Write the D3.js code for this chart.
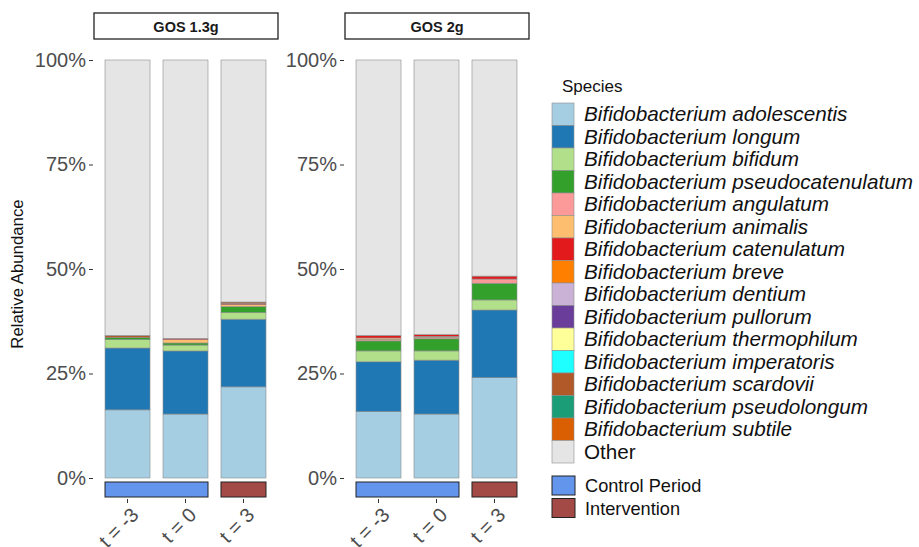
<!DOCTYPE html>
<meta charset="utf-8">
<body style="margin:0;background:#fff">
<script src="https://cdn.jsdelivr.net/npm/d3@7/dist/d3.min.js"></script>
<script>
// data
var panels = ["GOS 1.3g", "GOS 2g"];
var timepoints = ["t = -3", "t = 0", "t = 3"];
var periods = ["Control Period", "Control Period", "Intervention"];
var species = ["Bifidobacterium adolescentis", "Bifidobacterium longum", "Bifidobacterium bifidum",
  "Bifidobacterium pseudocatenulatum", "Bifidobacterium angulatum", "Bifidobacterium animalis",
  "Bifidobacterium catenulatum", "Bifidobacterium breve", "Bifidobacterium dentium",
  "Bifidobacterium pullorum", "Bifidobacterium thermophilum", "Bifidobacterium imperatoris",
  "Bifidobacterium scardovii", "Bifidobacterium pseudolongum", "Bifidobacterium subtile", "Other"];
var colors = ["#A6CEE3", "#1F78B4", "#B2DF8A", "#33A02C", "#FB9A99", "#FDBF6F", "#E31A1C", "#FF7F00",
  "#CAB2D6", "#6A3D9A", "#FFFF99", "#1EFFFF", "#B15928", "#1B9E77", "#D95F02", "#E5E5E5"];

// percent per species, values per timepoint
var gos13 = {
  "Bifidobacterium adolescentis": [16.3, 15.3, 21.8],
  "Bifidobacterium longum": [14.8, 15.1, 16.2],
  "Bifidobacterium bifidum": [2.0, 1.4, 1.6],
  "Bifidobacterium pseudocatenulatum": [0.5, 0.5, 1.4],
  "Bifidobacterium angulatum": [0, 0, 0],
  "Bifidobacterium animalis": [0, 0.8, 0.5],
  "Bifidobacterium catenulatum": [0, 0.3, 0.3],
  "Bifidobacterium scardovii": [0.5, 0, 0.3]
};
var gos2 = {
  "Bifidobacterium adolescentis": [15.9, 15.3, 24.0],
  "Bifidobacterium longum": [11.9, 12.9, 16.2],
  "Bifidobacterium bifidum": [2.6, 2.2, 2.4],
  "Bifidobacterium pseudocatenulatum": [2.4, 2.9, 4.0],
  "Bifidobacterium angulatum": [0.3, 0.3, 1.0],
  "Bifidobacterium animalis": [0.4, 0.3, 0],
  "Bifidobacterium catenulatum": [0.6, 0.4, 0.7]
};
var panelData = [gos13, gos2];
var yTicks = [0, 0.25, 0.5, 0.75, 1];

var W = 919, H = 547;
var font = "'Liberation Sans', Arial, sans-serif";
var svg = d3.select("body").append("svg").attr("width", W).attr("height", H)
  .style("font-family", font);

var y = d3.scaleLinear().domain([0, 1]).range([478, 60]);
var color = d3.scaleOrdinal().domain(species).range(colors);
var periodColor = d3.scaleOrdinal().domain(["Control Period", "Intervention"]).range(["#6495ED", "#A44A46"]);

var panelLeft = [94, 345];
var stack = d3.stack().keys(species);

panels.forEach(function(p, pi) {
  var x = d3.scaleBand().domain(timepoints).range([panelLeft[pi], panelLeft[pi] + 183])
    .paddingInner(0.224).paddingOuter(0.19);
  var rows = timepoints.map(function(t, ti) {
    var r = {t: t}, sum = 0;
    species.forEach(function(s) {
      var v = (panelData[pi][s] ? panelData[pi][s][ti] : 0) / 100;
      r[s] = v; sum += v;
    });
    r["Other"] = 1 - sum;
    return r;
  });
  var g = svg.append("g");

  // strip
  g.append("rect").attr("x", panelLeft[pi]).attr("y", 13).attr("width", 184).attr("height", 26)
    .attr("fill", "#fff").attr("stroke", "#222").attr("stroke-width", 1.3);
  g.append("text").attr("x", panelLeft[pi] + 92).attr("y", 31.5).attr("text-anchor", "middle")
    .attr("font-size", 14.5).attr("font-weight", "bold").attr("fill", "#1a1a1a").text(p);

  // y axis
  var ya = g.append("g").attr("transform", "translate(" + (panelLeft[pi] - 1) + ",0)")
    .call(d3.axisLeft(y).tickValues(yTicks).tickFormat(d3.format(".0%")).tickSize(4).tickPadding(3));
  ya.select(".domain").remove();
  ya.selectAll("line").attr("stroke", "#333");
  ya.selectAll("text").attr("font-size", 20).attr("fill", "#4D4D4D").attr("font-family", font);

  // bars
  g.selectAll("g.layer").data(stack(rows)).enter().append("g").attr("class", "layer")
    .attr("fill", function(d) { return color(d.key); })
    .selectAll("rect").data(function(d) { return d.filter(function(e) { return e[1] - e[0] > 0; }); })
    .enter().append("rect")
    .attr("x", function(d) { return x(d.data.t); })
    .attr("width", x.bandwidth())
    .attr("y", function(d) { return y(d[1]); })
    .attr("height", function(d) { return y(d[0]) - y(d[1]); })
    .attr("stroke", "#8c8c8c").attr("stroke-width", 0.6);

  // period bars
  var groups = d3.groups(timepoints.map(function(t, i) { return {t: t, p: periods[i]}; }), function(d) { return d.p; });
  groups.forEach(function(gr) {
    var x0 = x(gr[1][0].t), x1 = x(gr[1][gr[1].length - 1].t) + x.bandwidth();
    g.append("rect").attr("x", x0).attr("y", 482).attr("width", x1 - x0).attr("height", 15)
      .attr("fill", periodColor(gr[0])).attr("stroke", "#222").attr("stroke-width", 1);
  });

  // x axis
  var xa = g.append("g").attr("transform", "translate(0,499)")
    .call(d3.axisBottom(x).tickSize(4).tickPadding(2));
  xa.select(".domain").remove();
  xa.selectAll("line").attr("stroke", "#333");
  xa.selectAll("text").attr("font-size", 20).attr("fill", "#4D4D4D")
    .attr("font-family", font)
    .attr("text-anchor", "end").attr("dy", 0)
    .attr("transform", "translate(8,13) rotate(-45)");
});

// y title
svg.append("text").attr("transform", "translate(23,274) rotate(-90)").attr("text-anchor", "middle")
  .attr("font-size", 16.8).attr("fill", "#111").text("Relative Abundance");

// legend
var lg = svg.append("g").attr("transform", "translate(552,0)");
lg.append("text").attr("x", 10).attr("y", 92).attr("font-size", 17).attr("fill", "#111").text("Species");
var step = 22.5;
species.forEach(function(s, i) {
  lg.append("rect").attr("x", 0).attr("y", 103 + i * step).attr("width", 22).attr("height", step)
    .attr("fill", color(s)).attr("stroke", "#8c8c8c").attr("stroke-width", 0.6);
  lg.append("text").attr("x", 32).attr("y", 114 + i * step).attr("dy", "0.35em")
    .attr("font-size", 20.7).attr("fill", "#111")
    .attr("font-style", s === "Other" ? "normal" : "italic").text(s);
});
["Control Period", "Intervention"].forEach(function(s, i) {
  lg.append("rect").attr("x", 0).attr("y", 476 + i * 22.5).attr("width", 23).attr("height", 19)
    .attr("fill", periodColor(s)).attr("stroke", "#222").attr("stroke-width", 1);
  lg.append("text").attr("x", 33).attr("y", 486 + i * 22.5).attr("dy", "0.35em")
    .attr("font-size", 18.2).attr("fill", "#111").text(s);
});
</script>
</body>
